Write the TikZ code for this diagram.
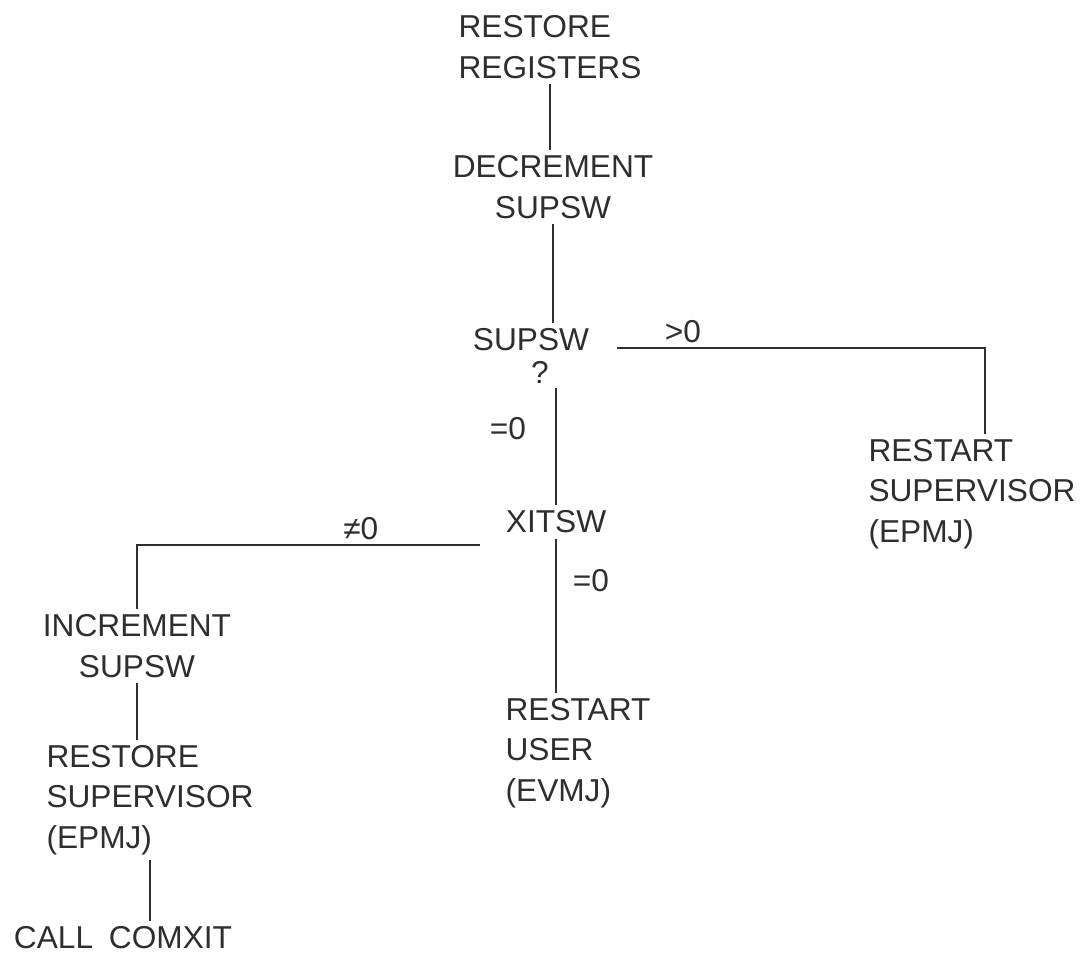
\documentclass[tikz,border=0pt]{standalone}
\usepackage{fontspec}
\setmainfont{Liberation Sans}
\definecolor{ink}{gray}{0.18}
\begin{document}
\begin{tikzpicture}[x=0.01cm,y=-0.01cm]
\tikzset{
  lbl/.style={font=\fontsize{9}{11.5}\selectfont, text=ink, inner sep=0.05cm, align=center},
  lblleft/.style={lbl, align=left},
  cond/.style={font=\fontsize{9}{11}\selectfont, text=ink, inner sep=0.04cm},
  wire/.style={draw=ink, line width=0.55pt}
}
\useasboundingbox (0,0) rectangle (1084,958);

% main spine
\node[lblleft] (rr) at (550,47) {RESTORE\\REGISTERS};
\node[lbl] (ds) at (553,187) {DECREMENT\\SUPSW};
\node[lbl] (q) at (531,340) {SUPSW};
\node[cond] (qm) at (540,372) {?};
\node[lbl] (xw) at (556,522) {XITSW};

% branches
\node[lblleft] (rs) at (972,494) {RESTART\\SUPERVISOR\\(EPMJ)};
\node[lblleft] (ru) at (578,753) {RESTART\\USER\\(EVMJ)};
\node[lbl] (inc) at (137,646) {INCREMENT\\SUPSW};
\node[lblleft] (rsv) at (150,800) {RESTORE\\SUPERVISOR\\(EPMJ)};
\node[lbl] (cc) at (123,938) {CALL\enspace COMXIT};

% connectors
\draw[wire] (rr.south) -- (rr.south |- ds.north);
\draw[wire] (ds.south) -- (ds.south |- q.north);
\draw[wire] ([xshift=0.22cm,yshift=0.03cm]q.base east) -| ([xshift=0.13cm]rs.north)
  node[cond, above, pos=0.09] {>0};
\draw[wire] (xw.north |- qm.south) -- (xw.north)
  node[cond, pos=0.35, left=0.25cm] {=0};
\draw[wire] ([xshift=-0.2cm,yshift=-0.12cm]xw.base west) -| (inc.north)
  node[cond, above, pos=0.174] {≠0};
\draw[wire] (xw.south) -- (xw.south |- ru.north)
  node[cond, pos=0.27, right=0.12cm] {=0};
\draw[wire] (inc.south) -- (inc.south |- rsv.north);
\draw[wire] (rsv.south) -- (rsv.south |- cc.north);
\end{tikzpicture}
\end{document}
